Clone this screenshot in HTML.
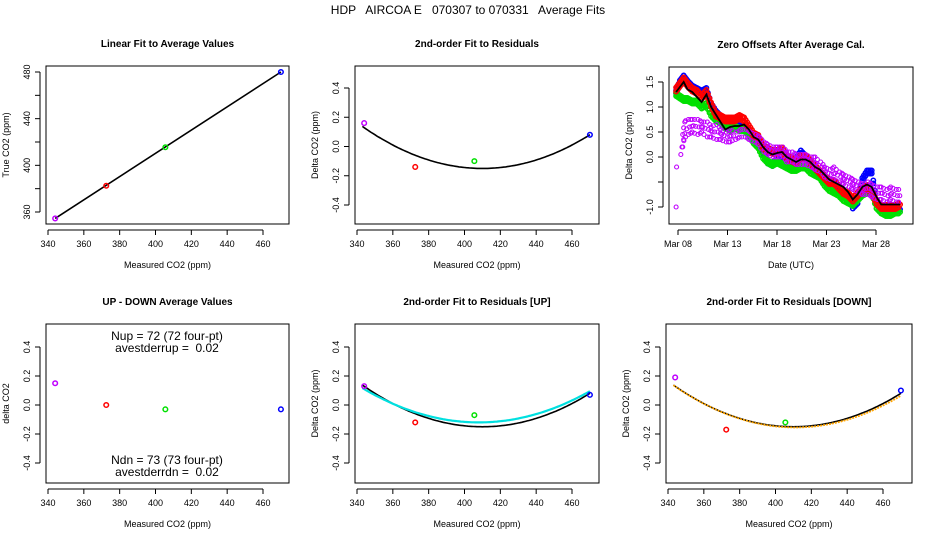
<!DOCTYPE html>
<html><head><meta charset="utf-8"><style>
body{margin:0;background:#fff}
svg{display:block;font-family:"Liberation Sans",sans-serif}
text{white-space:pre}
</style></head><body>
<svg id="c" width="936" height="540" viewBox="0 0 936 540"></svg>
<script>
// ---- data ----
const co2Measured=[344,372.5,405.5,470];
const co2True=[354.5,382.5,415.5,480];
const ptColors=["#c000ff","red","#00e000","blue"];
const residAll=[0.16,-0.14,-0.10,0.08];
const residUp=[0.13,-0.12,-0.07,0.07];
const residDown=[0.19,-0.17,-0.12,0.10];
const upDown=[0.15,0.00,-0.03,-0.03];
const fitAll=[6.4e-5,410,-0.15];
const fitUp=[5.6e-5,408,-0.12];
const fitDown=[6.3e-5,411,-0.155];
const xTicks=[340,360,380,400,420,440,460];
const dateLabels=["Mar 08","Mar 13","Mar 18","Mar 23","Mar 28"];
const dateTicks=[8,13,18,23,28];
const zDays=[7.8,8.2,8.6,9,9.5,10,10.5,11,11.5,12,12.5,13,13.5,14,14.5,15,15.5,16,16.5,17,17.5,18,18.5,19,19.5,20,20.5,21,21.5,22,22.5,23,23.5,24,24.5,25,25.5,26,26.5,27,27.5,28,28.5,29,29.5,30,30.5,31,31.5];
const zBlack=[1.3,1.4,1.5,1.35,1.3,1.2,1.1,1.25,1.0,0.85,0.7,0.55,0.6,0.62,0.62,0.65,0.55,0.4,0.35,0.2,0.1,0.05,0.08,0.1,0.0,-0.05,-0.1,-0.05,-0.05,-0.1,-0.2,-0.25,-0.35,-0.45,-0.5,-0.55,-0.6,-0.7,-0.85,-0.75,-0.6,-0.55,-0.6,-0.8,-0.95,-0.95,-0.95,-0.95,-0.95];
const zRed=[1.35,1.45,1.55,1.45,1.35,1.3,1.2,1.3,1.05,0.85,0.8,0.75,0.75,0.75,0.8,0.75,0.6,0.45,0.4,0.2,0.15,0.1,0.1,0.15,0.0,-0.05,-0.1,0.0,0.0,-0.1,-0.2,-0.3,-0.4,-0.5,-0.5,-0.6,-0.7,-0.75,-0.85,-0.75,-0.65,-0.6,-0.7,-0.9,-1.0,-1.0,-1.0,-1.0,-0.95];
const zBlue=[1.3,1.5,1.6,1.5,1.4,1.35,1.3,1.35,1.05,0.9,0.8,0.7,0.65,0.65,0.6,0.6,0.5,0.35,0.3,0.1,-0.1,-0.15,-0.05,-0.1,-0.15,-0.15,-0.05,0.1,0.0,-0.2,-0.3,-0.35,-0.5,-0.6,-0.55,-0.6,-0.75,-0.8,-1.0,-0.9,-0.45,-0.3,-0.3,-0.9,-1.05,-1.1,-1.1,-1.05,-1.05];
const zGreen=[1.25,1.2,1.15,1.15,1.1,1.1,1.0,1.05,0.85,0.75,0.7,0.6,0.55,0.6,0.55,0.55,0.45,0.3,0.2,0.0,-0.1,-0.15,-0.1,-0.15,-0.2,-0.25,-0.25,-0.2,-0.2,-0.3,-0.35,-0.4,-0.55,-0.65,-0.7,-0.75,-0.85,-0.9,-0.95,-0.85,-0.75,-0.7,-0.7,-1.0,-1.1,-1.15,-1.15,-1.1,-1.1];
const zMagHi=[-0.2,0.2,0.7,0.75,0.75,0.75,0.7,0.7,0.6,0.65,0.55,0.5,0.55,0.5,0.55,0.55,0.5,0.45,0.4,0.3,0.25,0.2,0.2,0.2,0.1,0.1,0.05,0.05,0.05,0.0,0.0,-0.1,-0.2,-0.25,-0.2,-0.3,-0.35,-0.4,-0.45,-0.5,-0.55,-0.5,-0.55,-0.6,-0.6,-0.65,-0.6,-0.65,-0.65];
const zMagLo=[-1.0,0.05,0.35,0.45,0.5,0.45,0.5,0.4,0.4,0.35,0.35,0.3,0.3,0.35,0.4,0.4,0.35,0.3,0.25,0.1,0.05,0.0,0.0,0.0,-0.1,-0.1,-0.15,-0.15,-0.15,-0.2,-0.25,-0.3,-0.4,-0.45,-0.45,-0.5,-0.55,-0.6,-0.65,-0.7,-0.75,-0.75,-0.8,-0.85,-0.85,-0.9,-0.85,-0.9,-0.9];

const S="http://www.w3.org/2000/svg",svg=document.getElementById('c');
function el(t,a,p,txt){const e=document.createElementNS(S,t);for(const k in a)e.setAttribute(k,a[k]);if(txt!==undefined)e.textContent=txt;(p||svg).appendChild(e);return e;}
function txt(x,y,s,o,name){o=o||{};const e=el('text',{x:x,y:y,'font-size':o.fs||9,'text-anchor':o.anchor||'middle','font-weight':o.fw||'normal',fill:'#000'},svg,s);if(o.rot)e.setAttribute('transform','rotate(-90 '+x+' '+y+')');

return e;}

function panel(o){
  const g=el('g',{});
  
  
  const sx=v=>o.L+(v-o.x0)*(o.xp1-o.L)/(o.x1-o.x0)+o.xoff;
  const sy=v=>o.y0p+(v-o.y0)*(o.y1p-o.y0p)/(o.y1-o.y0);
  const box=el('rect',{x:o.L,y:o.T,width:o.W,height:o.H,fill:'none',stroke:'#000','stroke-width':1},g);
  
  
  txt(o.L+o.W/2,o.T-19,o.title,{fw:'bold',fs:10},'panel-title');
  txt(o.L+o.W/2,o.T+o.H+44,o.xlab,{},'x-axis-title');
  txt(o.L-37,o.T+o.H/2,o.ylab,{rot:1},'y-axis-title');
  const xb=o.T+o.H+6;
  const xt=o.xticks||xTicks, xl=o.xlabels||xTicks;
  el('line',{x1:sx(xt[0]),x2:sx(xt[xt.length-1]),y1:xb,y2:xb,stroke:'#000'},g);
  xt.forEach((v,i)=>{el('line',{x1:sx(v),x2:sx(v),y1:xb,y2:xb+5,stroke:'#000'},g);txt(sx(v),xb+17,String(xl[i]),{fs:9},'x-tick-label');});
  const yl=o.L-6;
  el('line',{x1:yl,x2:yl,y1:sy(o.yt[0]),y2:sy(o.yt[o.yt.length-1]),stroke:'#000'},g);
  o.yt.forEach((v,i)=>{el('line',{x1:yl,x2:yl-5,y1:sy(v),y2:sy(v),stroke:'#000'},g);const lab=o.ylabs[i];if(lab!=='')txt(yl-10,sy(v),lab,{fs:9,rot:1},'y-tick-label');});
  return {g,sx,sy};
}
function pt(p,x,y,c,r,w){const e=el('circle',{cx:p.sx(x),cy:p.sy(y),r:r||2.3,fill:'none',stroke:c,'stroke-width':w||1.5},p.g);

}
function quad(p,f,c,w,dash){let d='';for(let x=343;x<=470;x+=1){const y=f[0]*(x-f[1])*(x-f[1])+f[2];d+=(d?'L':'M')+p.sx(x).toFixed(1)+','+p.sy(y).toFixed(1);}
const e=el('path',{d:d,fill:'none',stroke:c,'stroke-width':w,'stroke-dasharray':dash||'none'},p.g);

}

txt(468,14,"HDP   AIRCOA E   070307 to 070331   Average Fits",{fs:12},'figure-title');

const resY=[0.4,0.2,0,-0.2,-0.4],resL=['0.4','0.2','0.0','-0.2','-0.4'];
function xAx(L){return {L:L,x0:340,x1:460,xp1:L+215,xoff:2};}

// panel 1
let p1=panel(Object.assign(xAx(46),{name:'linear-fit-panel',T:66,W:243,H:158,y0:360,y1:480,y0p:212,y1p:72,yt:[360,380,400,420,440,460,480],ylabs:['360','','400','','440','','480'],title:'Linear Fit to Average Values',xlab:'Measured CO2 (ppm)',ylab:'True CO2 (ppm)'}));
{const l=el('line',{x1:p1.sx(co2Measured[0]),y1:p1.sy(co2True[0]),x2:p1.sx(co2Measured[3]),y2:p1.sy(co2True[3]),stroke:'#000','stroke-width':1.6},p1.g);
}
co2Measured.forEach((x,i)=>pt(p1,x,co2True[i],ptColors[i]));

// panel 2
let p2=panel(Object.assign(xAx(355),{name:'residual-fit-panel',T:66,W:244,H:158,y0:0.4,y1:-0.4,y0p:88,y1p:205,yt:resY,ylabs:resL,title:'2nd-order Fit to Residuals',xlab:'Measured CO2 (ppm)',ylab:'Delta CO2 (ppm)'}));
quad(p2,fitAll,'#000',1.6);
co2Measured.forEach((x,i)=>pt(p2,x,residAll[i],ptColors[i]));

// panel 3
let p3=panel({name:'zero-offsets-panel',L:669,T:67,W:244,H:157,x0:8,x1:28,xp1:867,xoff:9,y0:1.5,y1:-1.0,y0p:82,y1p:207,yt:[1.5,1.0,0.5,0,-0.5,-1.0],ylabs:['1.5','1.0','0.5','0.0','','-1.0'],xticks:dateTicks,xlabels:dateLabels,title:'Zero Offsets After Average Cal.',xlab:'Date (UTC)',ylab:'Delta CO2 (ppm)'});
p3.sx=v=>669+9+(v-8)*(867-678)/20;
function band(arr,c,spread){
  zDays.forEach((d,i)=>{
    if(i>=zDays.length-1){pt(p3,d,arr[i],c,2.2);return;}
    for(let k=0;k<3;k++){const t=k/3;const x=d+(zDays[i+1]-d)*t;const y=arr[i]+(arr[i+1]-arr[i])*t;
      pt(p3,x,y+spread,c,2.2);pt(p3,x,y-spread,c,2.2);}
  });
}
band(zBlue,'blue',0.03);band(zGreen,'#00e000',0.03);band(zRed,'red',0.04);
zDays.forEach((d,i)=>{
  if(i>=zDays.length-1)return;
  if(i===0){pt(p3,d,zMagLo[i],'#c000ff',2,1.1);pt(p3,d+0.05,zMagHi[i],'#c000ff',2,1.1);return;}
  for(let k=0;k<2;k++){const t=k/2;const x=d+(zDays[i+1]-d)*t+(i%2)*0.1;
    const hi=zMagHi[i]+(zMagHi[i+1]-zMagHi[i])*t, lo=zMagLo[i]+(zMagLo[i+1]-zMagLo[i])*t;
    const n=Math.max(1,Math.round((hi-lo)/0.13));
    for(let j=0;j<=n;j++)pt(p3,x+(j%2)*0.12,lo+(hi-lo)*j/n,'#c000ff',2,1.1);}
});
{let d='';zDays.forEach((v,i)=>{d+=(i?'L':'M')+p3.sx(v).toFixed(1)+','+p3.sy(zBlack[i]).toFixed(1);});
const e=el('path',{d:d,fill:'none',stroke:'#000','stroke-width':1.8},p3.g);}

// panel 4
let p4=panel(Object.assign(xAx(46),{name:'up-down-panel',T:324,W:243,H:159,y0:0.4,y1:-0.4,y0p:347,y1p:463,yt:resY,ylabs:resL,title:'UP - DOWN Average Values',xlab:'Measured CO2 (ppm)',ylab:'delta CO2'}));
co2Measured.forEach((x,i)=>pt(p4,x,upDown[i],ptColors[i]));
txt(167,340,'Nup = 72 (72 four-pt)',{fs:12},'nup-annotation');
txt(167,352,'avestderrup =  0.02',{fs:12},'stderr-up-annotation');
txt(167,464,'Ndn = 73 (73 four-pt)',{fs:12},'ndn-annotation');
txt(167,476,'avestderrdn =  0.02',{fs:12},'stderr-down-annotation');

// panel 5
let p5=panel(Object.assign(xAx(355),{name:'residual-up-panel',T:324,W:244,H:159,y0:0.4,y1:-0.4,y0p:347,y1p:463,yt:resY,ylabs:resL,title:'2nd-order Fit to Residuals [UP]',xlab:'Measured CO2 (ppm)',ylab:'Delta CO2 (ppm)'}));
quad(p5,fitAll,'#000',1.6);quad(p5,fitUp,'#00e0e0',2.2);
co2Measured.forEach((x,i)=>pt(p5,x,residUp[i],ptColors[i]));

// panel 6
let p6=panel(Object.assign(xAx(666),{name:'residual-down-panel',T:324,W:246,H:159,y0:0.4,y1:-0.4,y0p:347,y1p:463,yt:resY,ylabs:resL,title:'2nd-order Fit to Residuals [DOWN]',xlab:'Measured CO2 (ppm)',ylab:'Delta CO2 (ppm)'}));
quad(p6,fitAll,'#000',1.6);quad(p6,fitDown,'#ffa500',1.8,'2,1');
co2Measured.forEach((x,i)=>pt(p6,x,residDown[i],ptColors[i]));
</script>
</body></html>
